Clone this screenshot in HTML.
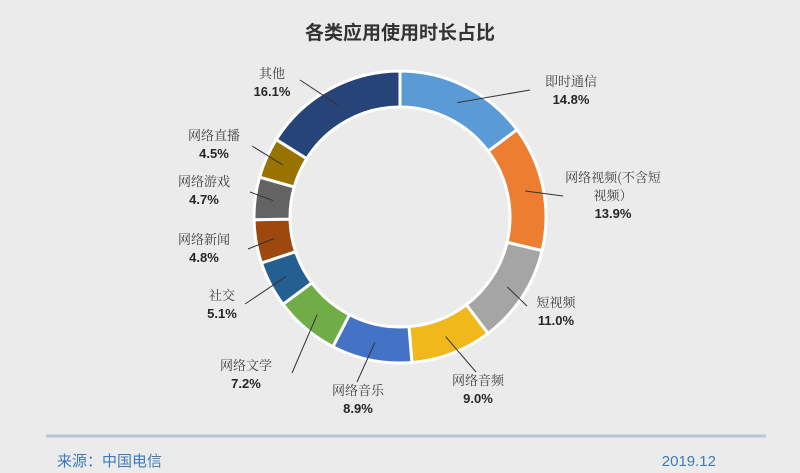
<!DOCTYPE html>
<html><head><meta charset="utf-8"><style>
html,body{margin:0;padding:0;background:#ebebeb;}
body{width:800px;height:473px;overflow:hidden;position:relative;font-family:"Liberation Sans","Noto Sans CJK SC",sans-serif;}
svg{position:absolute;left:0;top:0;}
.lab{font-family:"Noto Serif CJK SC","Liberation Serif",serif;font-size:13px;fill:#404040;}
.pct{font-family:"Liberation Sans",sans-serif;font-size:13px;font-weight:bold;fill:#262626;}
</style></head><body>
<svg id="chart" width="800" height="473">
<text x="400" y="39" text-anchor="middle" font-size="19" font-weight="bold" fill="#333" font-family="'Liberation Sans','Noto Sans CJK SC',sans-serif">各类应用使用时长占比</text>
<g id="slices"></g><g id="labels"></g>
<line x1="46" y1="436" x2="766" y2="436" stroke="#b8c4d8" stroke-width="3"/>
<text x="57" y="466" font-size="15" fill="#3d7ab8" font-family="'Liberation Sans','Noto Sans CJK SC',sans-serif">来源：中国电信</text>
<text x="716" y="466" text-anchor="end" font-size="15" fill="#3d7ab8">2019.12</text>
</svg>
<script>
const categories=["即时通信","网络视频(不含短|视频）","短视频","网络音频","网络音乐","网络文学","社交","网络新闻","网络游戏","网络直播","其他"];
const values=[14.8,13.9,11.0,9.0,8.9,7.2,5.1,4.8,4.7,4.5,16.1];
const valueLabels=["14.8%","13.9%","11.0%","9.0%","8.9%","7.2%","5.1%","4.8%","4.7%","4.5%","16.1%"];
const colors=["#5b9bd5","#ed7d31","#a5a5a5","#f0b81a","#4472c4","#70ad47","#255e91","#9e480e","#636363","#997300","#264478"];
// label layout: [centerX, firstLineY, lineEndX, lineEndY]
const layout=[[571,86,530,90],[613,182,563,196],[556,307,527,306],[478,385,476,372],[358,395,357,382],[246,370,292,373],[222,300,245,304],[204,244,248,249],[204,186,250,192],[214,140,252,146],[272,78,300,80]];
const cx=400,cy=217,R=146,r=110;
const NS="http://www.w3.org/2000/svg";
const gS=document.getElementById('slices'),gL=document.getElementById('labels');
const total=values.reduce((a,b)=>a+b,0);
function pt(a,rad){return [cx+rad*Math.sin(a),cy-rad*Math.cos(a)];}
let acc=0;
values.forEach((v,i)=>{
  const a0=acc/total*2*Math.PI;acc+=v;const a1=acc/total*2*Math.PI;
  const large=(a1-a0)>Math.PI?1:0;
  const p0=pt(a0,R),p1=pt(a1,R),q1=pt(a1,r),q0=pt(a0,r);
  const p=document.createElementNS(NS,'path');
  p.setAttribute('d',`M${p0[0]},${p0[1]}A${R},${R} 0 ${large} 1 ${p1[0]},${p1[1]}L${q1[0]},${q1[1]}A${r},${r} 0 ${large} 0 ${q0[0]},${q0[1]}Z`);
  p.setAttribute('fill',colors[i]);p.setAttribute('stroke','#ffffff');p.setAttribute('stroke-width','3');
  
  
  gS.appendChild(p);
  const am=(a0+a1)/2,m=pt(am,128),L=layout[i];
  const ln=document.createElementNS(NS,'line');
  ln.setAttribute('x1',m[0]);ln.setAttribute('y1',m[1]);ln.setAttribute('x2',L[2]);ln.setAttribute('y2',L[3]);
  ln.setAttribute('stroke','#333');ln.setAttribute('stroke-width','1');
  
  
  gL.appendChild(ln);
  const lines=categories[i].split('|');
  lines.forEach((s,k)=>{
    const t=document.createElementNS(NS,'text');
    t.setAttribute('x',L[0]);t.setAttribute('y',L[1]+k*18);t.setAttribute('text-anchor','middle');t.setAttribute('class','lab');
    t.textContent=s;
    
    
    gL.appendChild(t);
  });
  const t2=document.createElementNS(NS,'text');
  t2.setAttribute('x',L[0]);t2.setAttribute('y',L[1]+lines.length*18);t2.setAttribute('text-anchor','middle');t2.setAttribute('class','pct');
  t2.textContent=valueLabels[i];
  
  
  gL.appendChild(t2);
});
</script>
</body></html>
